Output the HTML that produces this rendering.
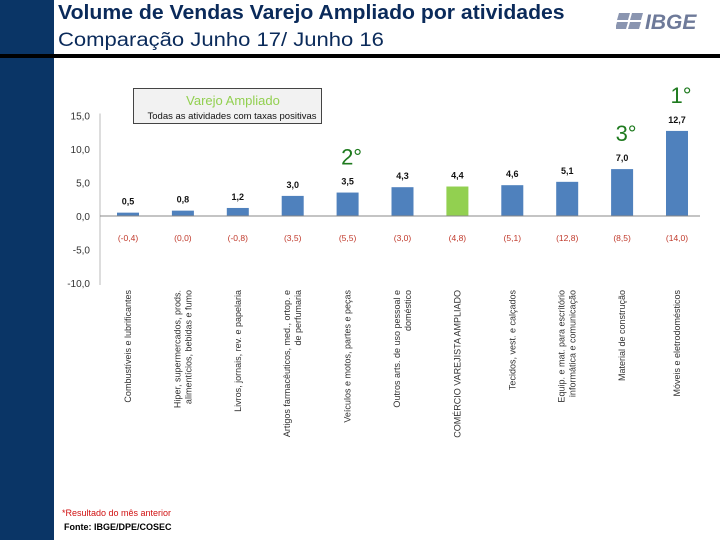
<!DOCTYPE html>
<html><head><meta charset="utf-8"><style>
body{margin:0;width:720px;height:540px;overflow:hidden;background:#fff;font-family:"Liberation Sans",sans-serif;position:relative}
</style></head><body>
<div style="position:absolute;left:0;top:0;width:54px;height:540px;background:#0a3566"></div>
<div style="position:absolute;left:0;top:54px;width:720px;height:4px;background:#000"></div>
<div style="position:absolute;left:58px;top:2px;font-size:20px;font-weight:bold;color:#0a2a5a;white-space:nowrap;transform:scaleX(1.06);transform-origin:0 0">Volume de Vendas Varejo Ampliado por atividades</div>
<div style="position:absolute;left:58px;top:30px;font-size:19px;color:#0a2a5a;white-space:nowrap;transform:scaleX(1.16);transform-origin:0 0">Comparação Junho 17/ Junho 16</div>
<div style="position:absolute;left:616px;top:10px;width:88px;height:22px">
<svg width="88" height="22"><g fill="#8a95b0"><polygon points="3,3 14,3 12,10 1,10"/><polygon points="16,3 27,3 25,10 14,10"/><polygon points="1,12 12,12 10,19 -1,19"/><polygon points="14,12 25,12 23,19 12,19"/></g>
<text x="29" y="19" font-family="Liberation Sans" font-size="21" font-weight="bold" font-style="italic" fill="#6e7a99">IBGE</text></svg></div>
<svg id="chart" width="720" height="540" style="position:absolute;left:0;top:0"></svg>
<div style="position:absolute;left:62px;top:508px;font-size:9px;color:#d01010">*Resultado do mês anterior</div>
<div style="position:absolute;left:64px;top:522px;font-size:9px;font-weight:bold;color:#000">Fonte: IBGE/DPE/COSEC</div>
<script>
const categories=[["Combustíveis e lubrificantes"],["Hiper, supermercados, prods.","alimentícios, bebidas e fumo"],["Livros, jornais, rev. e papelaria"],["Artigos farmacêuticos, med., ortop. e","de perfumaria"],["Veículos e motos, partes e peças"],["Outros arts. de uso pessoal e","doméstico"],["COMÉRCIO VAREJISTA AMPLIADO"],["Tecidos, vest. e calçados"],["Equip. e mat. para escritório","informática e comunicação"],["Material de construção"],["Móveis e eletrodomésticos"]];
const values=[0.5,0.8,1.2,3.0,3.5,4.3,4.4,4.6,5.1,7.0,12.7];
const prevValues=["(-0,4)","(0,0)","(-0,8)","(3,5)","(5,5)","(3,0)","(4,8)","(5,1)","(12,8)","(8,5)","(14,0)"];
const yTicks=[15,10,5,0,-5,-10];
const highlight=6;
const ranks=[[10,"1°"],[9,"3°"],[4,"2°"]];
const NS="http://www.w3.org/2000/svg";
const svg=document.getElementById('chart');
function y(v){return 216-v*6.7;}
function x(i){return 128+i*54.9;}
function el(t,a,txt){const e=document.createElementNS(NS,t);for(const k in a)e.setAttribute(k,a[k]);if(txt!==undefined)e.textContent=txt;svg.appendChild(e);return e;}
function fmt(v){return v.toFixed(1).replace('.',',');}
let ax=el('line',{x1:100,x2:100,y1:y(15)-2,y2:y(-10)+2,stroke:'#bbb'});


yTicks.forEach(t=>{let e=el('text',{x:90,y:y(t)+4,'text-anchor':'end','font-size':10,fill:'#333'},fmt(t));

});
values.forEach((v,i)=>{
let b=el('rect',{x:x(i)-11,y:y(v),width:22,height:y(0)-y(v),fill:i===highlight?'#92d050':'#4f81bd'});


let l=el('text',{x:x(i),y:y(v)-8,'text-anchor':'middle','font-size':9,'font-weight':'bold',fill:'#111'},fmt(v));


let p=el('text',{x:x(i),y:241,'text-anchor':'middle','font-size':8.5,fill:'#c0392b'},prevValues[i]);


const lines=categories[i];
lines.forEach((s,j)=>{const cx=x(i)+(j-(lines.length-1)/2)*11+3;
let c=el('text',{x:0,y:0,transform:`translate(${cx},290) rotate(-90)`,'text-anchor':'end','font-size':9,fill:'#333'},s);

});
});
let z=el('line',{x1:100,x2:700,y1:y(0),y2:y(0),stroke:'#888'});


ranks.forEach(r=>{const i=r[0];let t=el('text',{x:x(i)+4,y:y(values[i])-28,'text-anchor':'middle','font-size':22,fill:'#1e7a1e'},r[1]);

});
let bx=el('rect',{x:133.5,y:88.5,width:188,height:35,fill:'#f2f2f2',stroke:'#444'});


let t1=el('text',{x:233,y:105,'text-anchor':'middle','font-size':13,fill:'#92d050'},'Varejo Ampliado');


let t2=el('text',{x:232,y:119,'text-anchor':'middle','font-size':9.5,fill:'#111'},'Todas as atividades com taxas positivas');


</script>
</body></html>
